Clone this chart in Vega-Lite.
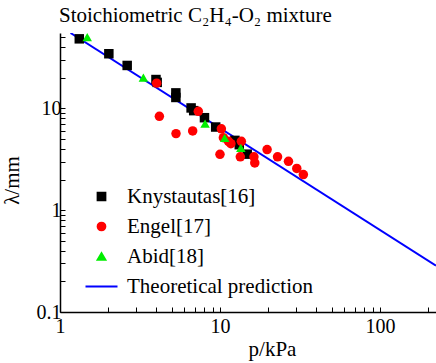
{
  "$schema": "https://vega.github.io/schema/vega-lite/v6.json",
  "width": 376,
  "height": 279,
  "autosize": {"type": "none"},
  "padding": {"left": 60, "top": 33, "right": 0, "bottom": 51},
  "background": "white",
  "title": {
    "text": "Stoichiometric C₂H₄-O₂ mixture",
    "anchor": "start",
    "frame": "group",
    "font": "Liberation Serif",
    "fontSize": 21,
    "fontWeight": "normal",
    "color": "black",
    "baseline": "alphabetic",
    "offset": 9,
    "dy": 25,
    "dx": -1
  },
  "config": {
    "view": {"stroke": null},
    "axis": {
      "labelFont": "Liberation Serif",
      "titleFont": "Liberation Serif",
      "labelFontSize": 20,
      "titleFontSize": 21,
      "titleFontWeight": "normal",
      "labelColor": "black",
      "titleColor": "black",
      "domainColor": "black",
      "tickColor": "black",
      "domainWidth": 1.5,
      "tickWidth": 1,
      "grid": false
    }
  },
  "datasets": {
    "pts": [
      {"series": "Knystautas[16]", "p": 1.32, "lambda": 48.2},
      {"series": "Knystautas[16]", "p": 2.02, "lambda": 34.4},
      {"series": "Knystautas[16]", "p": 2.63, "lambda": 26.4},
      {"series": "Knystautas[16]", "p": 3.98, "lambda": 19.2},
      {"series": "Knystautas[16]", "p": 4.05, "lambda": 18.0},
      {"series": "Knystautas[16]", "p": 5.3, "lambda": 14.2},
      {"series": "Knystautas[16]", "p": 5.3, "lambda": 12.8},
      {"series": "Knystautas[16]", "p": 6.6, "lambda": 10.1},
      {"series": "Knystautas[16]", "p": 6.85, "lambda": 9.5},
      {"series": "Knystautas[16]", "p": 8.0, "lambda": 8.1},
      {"series": "Knystautas[16]", "p": 9.4, "lambda": 6.56},
      {"series": "Knystautas[16]", "p": 12.4, "lambda": 4.85},
      {"series": "Knystautas[16]", "p": 13.2, "lambda": 4.4},
      {"series": "Knystautas[16]", "p": 14.8, "lambda": 3.55},
      {"series": "Engel[17]", "p": 4.02, "lambda": 17.7},
      {"series": "Engel[17]", "p": 4.18, "lambda": 8.35},
      {"series": "Engel[17]", "p": 5.31, "lambda": 5.65},
      {"series": "Engel[17]", "p": 6.75, "lambda": 6.0},
      {"series": "Engel[17]", "p": 7.32, "lambda": 9.35},
      {"series": "Engel[17]", "p": 10.0, "lambda": 3.54},
      {"series": "Engel[17]", "p": 10.2, "lambda": 6.3},
      {"series": "Engel[17]", "p": 10.5, "lambda": 5.16},
      {"series": "Engel[17]", "p": 11.3, "lambda": 4.75},
      {"series": "Engel[17]", "p": 11.7, "lambda": 4.5},
      {"series": "Engel[17]", "p": 13.6, "lambda": 4.75},
      {"series": "Engel[17]", "p": 13.4, "lambda": 3.34},
      {"series": "Engel[17]", "p": 16.3, "lambda": 3.34},
      {"series": "Engel[17]", "p": 16.5, "lambda": 2.91},
      {"series": "Engel[17]", "p": 19.7, "lambda": 3.94},
      {"series": "Engel[17]", "p": 22.9, "lambda": 3.34},
      {"series": "Engel[17]", "p": 26.8, "lambda": 3.02},
      {"series": "Engel[17]", "p": 30.2, "lambda": 2.57},
      {"series": "Engel[17]", "p": 33.2, "lambda": 2.24},
      {"series": "Abid[18]", "p": 1.48, "lambda": 50.0},
      {"series": "Abid[18]", "p": 3.32, "lambda": 20.0},
      {"series": "Abid[18]", "p": 8.07, "lambda": 7.08},
      {"series": "Abid[18]", "p": 10.7, "lambda": 5.12},
      {"series": "Abid[18]", "p": 13.5, "lambda": 4.09}
    ],
    "theory": [
      {"series": "Theoretical prediction", "p": 1.164, "lambda": 55},
      {"series": "Theoretical prediction", "p": 224, "lambda": 0.2857}
    ]
  },
  "layer": [
    {
      "data": {"name": "theory"},
      "mark": {"type": "line", "strokeWidth": 2, "clip": true},
      "encoding": {
        "x": {"field": "p", "type": "quantitative"},
        "y": {"field": "lambda", "type": "quantitative"},
        "color": {"field": "series", "type": "nominal"}
      }
    },
    {
      "data": {"name": "pts"},
      "mark": {"type": "point", "filled": true, "opacity": 1, "size": 90},
      "encoding": {
        "x": {
          "field": "p",
          "type": "quantitative",
          "scale": {"type": "log", "domain": [1, 224], "nice": false},
          "axis": {
            "title": "p/kPa",
            "titleX": 212,
            "titleY": 43,
            "titleBaseline": "alphabetic",
            "titleAnchor": "middle",
            "values": [1,2,3,4,5,6,7,8,9,10,20,30,40,50,60,70,80,90,100,200],
            "labelExpr": "(datum.value === 1 || datum.value === 10 || datum.value === 100) ? datum.label : ''",
            "tickSize": -5,
            "labelPadding": 9,
            "labelFlush": false,
            "labelOverlap": false
          }
        },
        "y": {
          "field": "lambda",
          "type": "quantitative",
          "scale": {"type": "log", "domain": [0.1, 55], "nice": false},
          "axis": {
            "title": "λ/mm",
            "titleX": -38,
            "titleY": 147,
            "titleAnchor": "middle",
            "values": [0.1,0.2,0.3,0.4,0.5,0.6,0.7,0.8,0.9,1,2,3,4,5,6,7,8,9,10,20,30,40,50],
            "labelExpr": "(datum.value === 0.1 || datum.value === 1 || datum.value === 10) ? datum.label : ''",
            "tickSize": -5,
            "labelPadding": 4,
            "labelFlush": false,
            "labelOverlap": false
          }
        },
        "color": {
          "field": "series",
          "type": "nominal",
          "scale": {
            "domain": ["Knystautas[16]", "Engel[17]", "Abid[18]", "Theoretical prediction"],
            "range": ["#000000", "#ff0000", "#00ee00", "#0000ff"]
          },
          "legend": {
            "title": null,
            "orient": "none",
            "legendX": 31,
            "legendY": 153,
            "labelFont": "Liberation Serif",
            "labelFontSize": 21,
            "labelColor": "black",
            "labelLimit": 400,
            "labelOffset": 15,
            "rowPadding": 8,
            "padding": 0,
            "symbolSize": 60,
            "symbolStrokeWidth": 2,
            "symbolOpacity": 1,
            "encode": {
              "symbols": {
                "update": {
                  "size": {"signal": "datum.value === 'Theoretical prediction' ? 1024 : 60"},
                  "stroke": {"signal": "datum.value === 'Theoretical prediction' ? '#0000ff' : null"}
                }
              }
            }
          }
        },
        "shape": {
          "field": "series",
          "type": "nominal",
          "scale": {
            "domain": ["Knystautas[16]", "Engel[17]", "Abid[18]", "Theoretical prediction"],
            "range": ["square", "circle", "triangle-up", "stroke"]
          }
        }
      }
    }
  ]
}
